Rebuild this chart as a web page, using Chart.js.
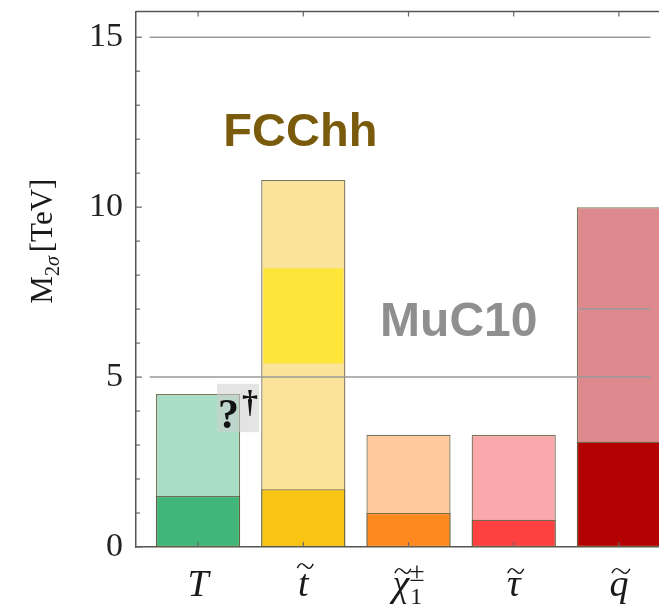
<!DOCTYPE html>
<html lang="en">
<head>
    <meta charset="UTF-8">
    <title>Mass reach M2σ</title>
    <script src="https://cdn.jsdelivr.net/npm/chart.js"></script>
    <style>
        html, body { margin: 0; padding: 0; background: #fff; overflow: hidden; }
        #wrap { width: 690px; height: 605px; overflow: hidden; }
        canvas { margin-top: -22px; display: block; }
    </style>
</head>
<body>
<div id="wrap"><canvas id="reachChart" width="690" height="627"></canvas></div>

<script>
    // categories: base symbol, tilde?, subscript, superscript
    const labels = ['T', 't', '\u03c7', '\u03c4', 'q'];
    const labelTilde = [false, true, true, true, true];
    const labelSubs = ['', '', '1', '', ''];
    const labelSups = ['', '', '\u00b1', '', ''];

    // reach values in TeV
    const fcchhReach = [4.5, 10.8, 3.3, 3.3, 10.0];   // light bars
    const mucReach = [1.5, 1.7, 1.0, 0.8, 3.1];       // dark bars
    const stopBand = [5.4, 8.2];                      // highlighted band on stop

    const yTicks = [0, 5, 10, 15];
    const refLines = [15, 5];

    const lightColors = ['#a8dec5', '#fbe39b', '#ffc89d', '#fba8ac', '#de898d'];
    const darkColors = ['#40b67b', '#f8c612', '#fe891f', '#fe4040', '#b40000'];

    const edge = 'rgba(100, 92, 60, 0.85)';
    const serif = '"Liberation Serif", "DejaVu Serif", serif';

    function drawTilde(ctx, cx, cy, w) {
        const h = 3.5;
        ctx.beginPath();
        ctx.moveTo(cx - w / 2, cy + h * 0.6);
        ctx.bezierCurveTo(cx - w / 4, cy - h * 1.6, cx - w / 8, cy - h * 0.4, cx, cy);
        ctx.bezierCurveTo(cx + w / 8, cy + h * 0.4, cx + w / 4, cy + h * 1.6, cx + w / 2, cy - h * 0.6);
        ctx.stroke();
    }

    const overlay = {
        id: 'overlay',
        afterDatasetsDraw(chart) {
            const ctx = chart.ctx;
            const xs = chart.scales.x, ys = chart.scales.y;
            const area = chart.chartArea;
            ctx.save();

            // reference lines
            ctx.strokeStyle = '#9a9a9a';
            ctx.lineWidth = 1.5;
            refLines.forEach(v => {
                const y = ys.getPixelForValue(v);
                ctx.beginPath();
                ctx.moveTo(xs.getPixelForValue(-0.46), y);
                ctx.lineTo(xs.getPixelForValue(4.3), y);
                ctx.stroke();
            });
            // short piece visible inside the squark bar
            const y7 = ys.getPixelForValue(7);
            ctx.beginPath();
            ctx.moveTo(xs.getPixelForValue(3.6), y7);
            ctx.lineTo(xs.getPixelForValue(4.3), y7);
            ctx.stroke();

            // top frame
            ctx.strokeStyle = '#555';
            ctx.lineWidth = 1.5;
            ctx.beginPath();
            ctx.moveTo(area.left, area.top);
            ctx.lineTo(area.right, area.top);
            ctx.stroke();

            // inward ticks
            ctx.lineWidth = 1.2;
            ctx.strokeStyle = '#666';
            for (let v = 0; v <= 15; v++) {
                const y = ys.getPixelForValue(v);
                const len = v % 5 === 0 ? 6 : 4;
                ctx.beginPath();
                ctx.moveTo(area.left, y);
                ctx.lineTo(area.left + len, y);
                ctx.stroke();
            }
            labels.forEach((l, i) => {
                const x = xs.getPixelForValue(i);
                ctx.beginPath();
                ctx.moveTo(x, area.top);
                ctx.lineTo(x, area.top + 5);
                ctx.moveTo(x, area.bottom);
                ctx.lineTo(x, area.bottom - 5);
                ctx.stroke();
            });

            // x tick labels
            ctx.fillStyle = '#1a1a1a';
            ctx.strokeStyle = '#1a1a1a';
            ctx.lineWidth = 1.4;
            ctx.textBaseline = 'alphabetic';
            ctx.textAlign = 'left';
            labels.forEach((l, i) => {
                const x = xs.getPixelForValue(i);
                const base = area.bottom + 49;
                ctx.font = 'italic 38px ' + serif;
                const w = ctx.measureText(l).width;
                ctx.font = '26px ' + serif;
                let sw = 0;
                if (labelSubs[i] || labelSups[i]) {
                    sw = Math.max(ctx.measureText(labelSubs[i]).width, ctx.measureText(labelSups[i]).width) + 1;
                }
                const x0 = x - (w + sw) / 2;
                ctx.font = 'italic 38px ' + serif;
                ctx.fillText(l, x0, base);
                if (labelTilde[i]) {
                    const tall = l === 't';
                    drawTilde(ctx, x0 + w / 2 + 2, base - (tall ? 30 : 25), Math.max(16, w * 0.95));
                }
                ctx.font = '24px ' + serif;
                if (labelSubs[i]) ctx.fillText(labelSubs[i], x0 + w + 1, base + 8);
                ctx.font = '28px ' + serif;
                if (labelSups[i]) ctx.fillText(labelSups[i], x0 + w, base - 15);
            });

            // y axis title
            ctx.save();
            ctx.translate(52, ys.getPixelForValue(9));
            ctx.rotate(-Math.PI / 2);
            ctx.fillStyle = '#1a1a1a';
            ctx.font = '31px ' + serif;
            const mW = ctx.measureText('M').width;
            ctx.font = 'italic 20px ' + serif;
            const sW = ctx.measureText('2\u03c3').width;
            ctx.font = '31px ' + serif;
            const tW = ctx.measureText('[TeV]').width;
            let cx = -(mW + sW + 4 + tW) / 2;
            ctx.fillText('M', cx, 0);
            cx += mW;
            ctx.font = '20px ' + serif;
            ctx.fillText('2', cx, 7);
            ctx.font = 'italic 20px ' + serif;
            ctx.fillText('\u03c3', cx + ctx.measureText('2').width, 7);
            cx += sW + 4;
            ctx.font = '31px ' + serif;
            ctx.fillText('[TeV]', cx, 0);
            ctx.restore();

            // collider annotations
            ctx.font = 'bold 47px "Liberation Sans", Arimo, sans-serif';
            ctx.fillStyle = '#7a5a0b';
            ctx.fillText('FCChh', xs.getPixelForValue(0.24), ys.getPixelForValue(11.8));
            ctx.fillStyle = '#8f8f8f';
            ctx.font = 'bold 48px "Liberation Sans", Arimo, sans-serif';
            ctx.fillText('MuC10', xs.getPixelForValue(1.73), ys.getPixelForValue(6.2));

            // "?†" marker on the T bar
            const bx0 = xs.getPixelForValue(0.18), bx1 = xs.getPixelForValue(0.58);
            const by0 = ys.getPixelForValue(4.8), by1 = ys.getPixelForValue(3.38);
            ctx.fillStyle = 'rgba(205, 205, 205, 0.55)';
            ctx.fillRect(bx0, by0, bx1 - bx0, by1 - by0);
            ctx.fillStyle = '#111';
            ctx.font = 'bold 42px ' + serif;
            ctx.fillText('?', bx0 + 1, by1 - 4);
            ctx.font = 'bold 32px ' + serif;
            ctx.fillText('\u2020', bx0 + 25, by0 + 28);

            ctx.restore();
        }
    };

    const ctxReach = document.getElementById('reachChart').getContext('2d');
    new Chart(ctxReach, {
        type: 'bar',
        data: {
            datasets: [
                {
                    label: 'MuC10',
                    data: mucReach.map((v, i) => ({x: i, y: v})),
                    backgroundColor: darkColors,
                    borderColor: edge,
                    borderWidth: 1.3,
                    borderSkipped: false,
                    grouped: false,
                    order: 1
                },
                {
                    label: 'band',
                    data: [{x: 1, y: stopBand}],
                    backgroundColor: '#fee53a',
                    borderWidth: 0,
                    barPercentage: 0.76,
                    grouped: false,
                    order: 2
                },
                {
                    label: 'FCChh',
                    data: fcchhReach.map((v, i) => ({x: i, y: v})),
                    backgroundColor: lightColors,
                    borderColor: edge,
                    borderWidth: 1.3,
                    borderSkipped: false,
                    grouped: false,
                    order: 3
                }
            ]
        },
        options: {
            responsive: false,
            animation: false,
            layout: { padding: { top: 11, right: 9, left: 0, bottom: 0 } },
            datasets: {
                bar: { categoryPercentage: 1, barPercentage: 0.8 }
            },
            plugins: {
                legend: { display: false },
                tooltip: { enabled: false }
            },
            scales: {
                x: {
                    type: 'linear',
                    offset: false,
                    min: -0.59,
                    max: 4.59,
                    afterBuildTicks: s => { s.ticks = labels.map((l, i) => ({value: i})); },
                    grid: { display: false },
                    border: { display: true, color: '#555', width: 1.5 },
                    ticks: { display: false },
                    afterFit: s => { s.height = 58; }
                },
                y: {
                    min: 0,
                    max: 15.76,
                    afterBuildTicks: s => { s.ticks = yTicks.map(v => ({value: v})); },
                    grid: { display: false, drawTicks: false },
                    border: { display: true, color: '#555', width: 1.5 },
                    ticks: {
                        color: '#222',
                        padding: 13,
                        font: { family: serif, size: 34 }
                    },
                    afterFit: s => { s.width = 136; }
                }
            }
        },
        plugins: [overlay]
    });
</script>
</body>
</html>
